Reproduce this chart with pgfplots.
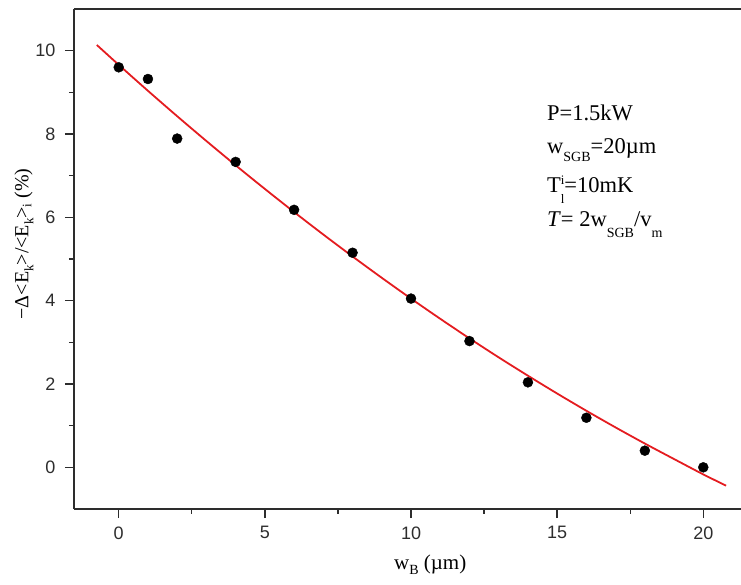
\documentclass[border=0pt]{standalone}
\usepackage{fontspec}
\setmainfont{Liberation Serif}
\newfontfamily\arial{Liberation Sans}
\usepackage{pgfplots}
\pgfplotsset{compat=1.18}
\definecolor{fitred}{RGB}{228,28,32}
\definecolor{axgray}{RGB}{45,45,45}
\newcommand\lo[3]{\raisebox{-#1}{\fontsize{#2}{#2}\selectfont #3}}
\newcommand\hi[3]{\raisebox{#1}{\fontsize{#2}{#2}\selectfont #3}}
\begin{document}
\begin{tikzpicture}
\begin{axis}[
  scale only axis, width=667pt, height=500pt,
  xmin=-1.53, xmax=21.29, ymin=-1, ymax=11,
  axis lines=left,
  axis line style={-, line width=1.6pt, color=axgray},
  xtick={0,5,...,20}, ytick={0,2,...,10},
  minor x tick num=1, minor y tick num=1,
  tick align=outside,
  major tick length=9pt, minor tick length=5pt,
  tick style={line width=1.4pt, color=axgray},
  ticklabel style={font=\arial\fontsize{18}{20}\selectfont, text=axgray},
  xticklabel style={yshift=-5pt},
  yticklabel style={xshift=-6pt},
  /pgf/number format/assume math mode=true,
  xlabel={w\lo{5pt}{14}{B} (µm)},
  ylabel={−Δ<E\lo{5pt}{13}{k}>/<E\lo{5pt}{13}{k}>\lo{3pt}{13}{i} (\%)},
  xlabel style={at={(axis description cs:0.534,-0.122)}, anchor=base, font=\fontsize{21}{24}\selectfont},
  ylabel style={at={(axis description cs:-0.075,0.53)}, anchor=center, font=\fontsize{20}{22}\selectfont},
  clip=false,
]
\addplot[fitred, line width=1.8pt, smooth] coordinates {
(-0.75,10.137) (0,9.66) (1,9.0365) (2,8.4268) (3,7.8311) (4,7.2492) (5,6.6813)
(6,6.1272) (7,5.5870) (8,5.0608) (9,4.5485) (10,4.0495) (11,3.5650) (12,3.0948)
(13,2.6390) (14,2.1992) (15,1.7713) (16,1.3572) (17,0.9570) (18,0.5708)
(19,0.1985) (20,-0.17) (20.78,-0.44)
};
\addplot[only marks, mark=*, mark size=5pt, black] coordinates {
(0,9.60) (1,9.32) (2,7.89) (4,7.33) (6,6.18) (8,5.15) (10,4.05)
(12,3.03) (14,2.04) (16,1.19) (18,0.40) (20,0.0)
};
\draw[axgray, line width=1.6pt] (rel axis cs:0,1) -- (rel axis cs:1,1);
\begin{scope}[every node/.style={anchor=base west, inner sep=0pt, font=\fontsize{22.5}{25}\selectfont}]
\node at (axis cs:14.65,8.32) {P=1.5kW};
\node at (axis cs:14.65,7.52) {w\lo{8pt}{14}{SGB}=20µm};
\node at (axis cs:14.65,6.59) {T\rlap{\hi{8pt}{13}{i}}\lo{11pt}{13}{l}=10mK};
\node at (axis cs:14.65,5.79) {\textit{T}= 2w\lo{11pt}{14}{SGB}/v\lo{11pt}{14}{m}};
\end{scope}
\end{axis}
\pgfresetboundingbox
\useasboundingbox (-74pt,-76pt) rectangle (667pt,509pt);
\end{tikzpicture}
\end{document}
